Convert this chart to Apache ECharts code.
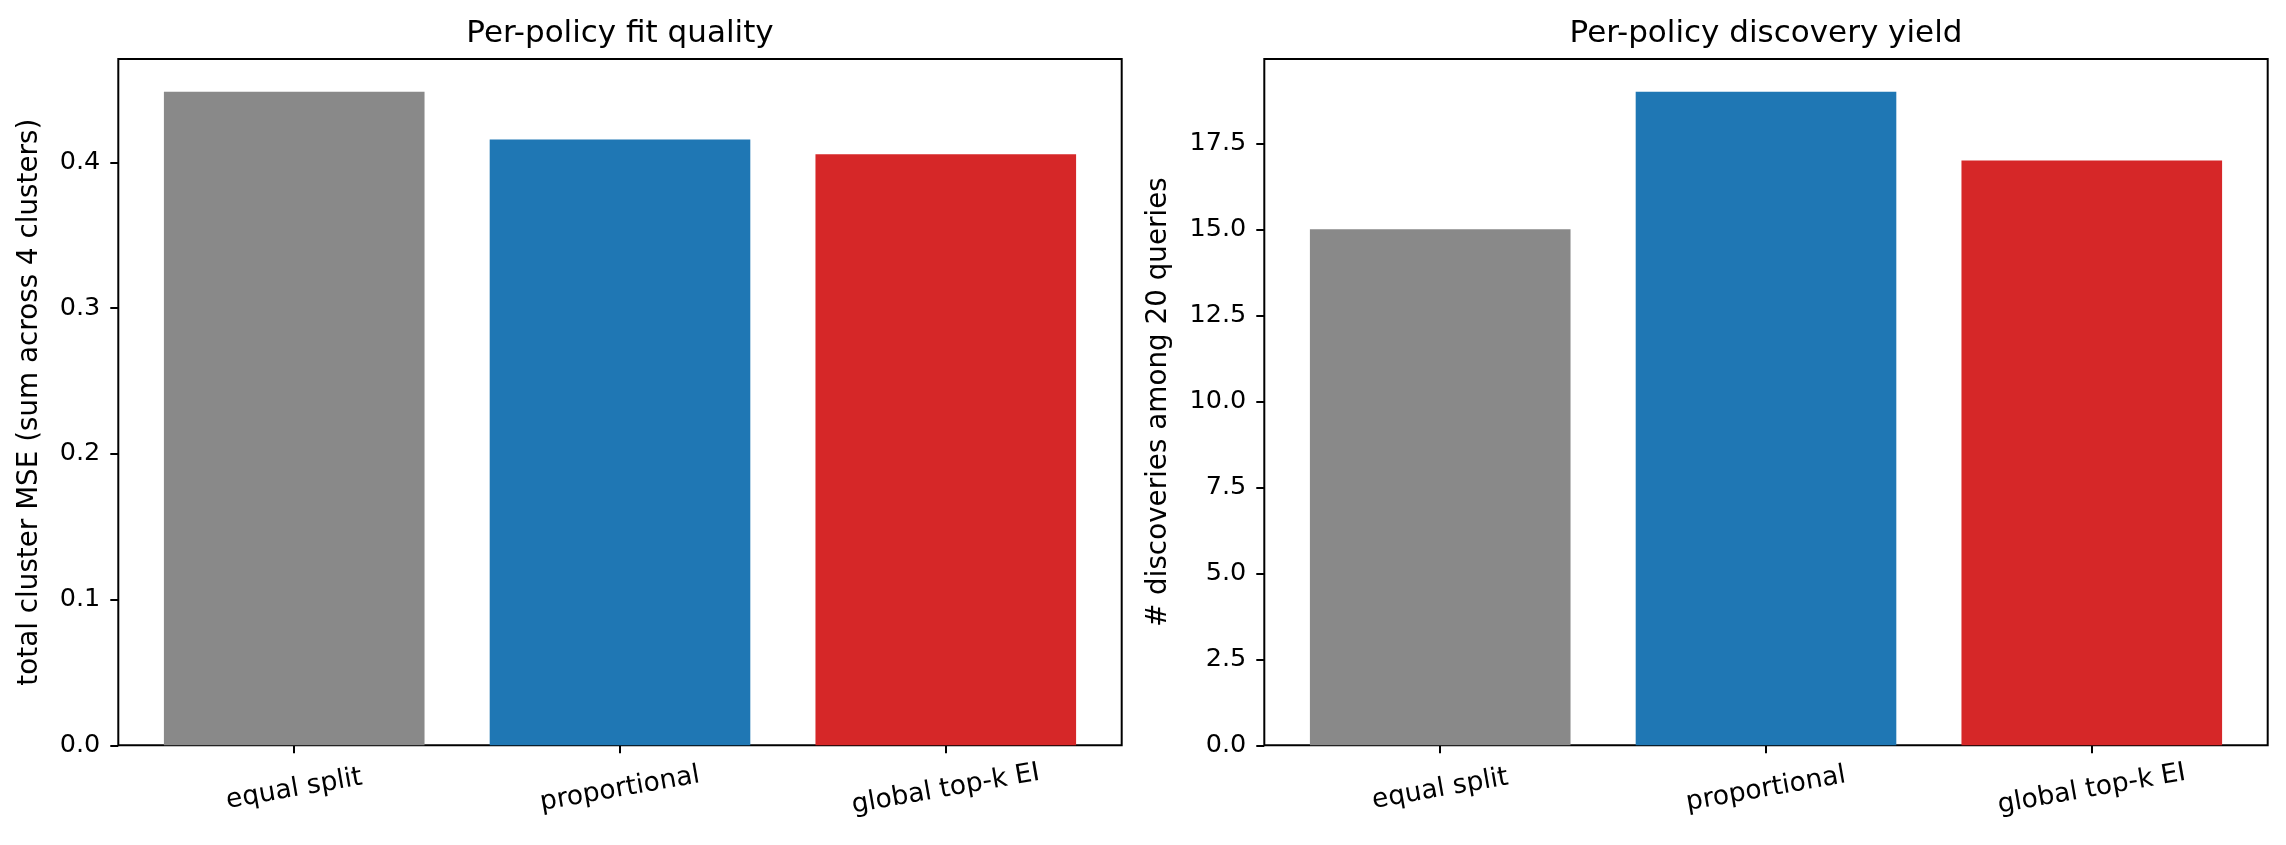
<!DOCTYPE html>
<html>
<head>
<meta charset="utf-8">
<script src="https://cdn.jsdelivr.net/npm/echarts@6/dist/echarts.min.js"></script>
<style>
  html, body { margin: 0; padding: 0; background: #fff; }
  #chart { width: 2286px; height: 845px; }
</style>
</head>
<body>
<div id="chart"></div>
<script>
// data
const categories = ["equal split", "proportional", "global top-k EI"];
const barColors = ["#898989", "#1f77b4", "#d62728"];
const mseValues = [0.4485, 0.4157, 0.4055];
const yieldValues = [15, 19, 17];
const mseTicks = [0, 0.1, 0.2, 0.3, 0.4];
const yieldTicks = [0, 2.5, 5, 7.5, 10, 12.5, 15, 17.5];
const catTicks = [0, 1, 2];

const FONT = "DejaVu Sans";
const gridW = 1003.4;
const xMin = -0.54, xMax = 2.54;
const barW = gridW / (xMax - xMin) * 0.8;

const chart = echarts.init(document.getElementById("chart"), null, { renderer: "canvas" });

const toPoints = (vals) => vals.map((v, i) => ({
  value: [i, v],
  itemStyle: { color: barColors[i] }
}));

const xAxisFor = (gridIndex) => ({
  type: "value",
  gridIndex,
  min: xMin,
  max: xMax,
  axisLine: { show: false, onZero: false },
  splitLine: { show: false },
  axisTick: {
    show: true, customValues: catTicks, length: 8,
    lineStyle: { color: "#000", width: 2 }
  },
  axisLabel: {
    show: true, customValues: catTicks,
    formatter: (v) => categories[Math.round(v)],
    rotate: 10, align: "center", verticalAlign: "middle",
    margin: 44, fontSize: 26.5, fontFamily: FONT, color: "#000"
  }
});

const yAxisFor = (gridIndex, ticks, name, nameGap) => ({
  type: "value",
  gridIndex,
  min: 0,
  max: (e) => e.max * 1.05,
  name,
  nameLocation: "middle",
  nameGap,
  nameTextStyle: { fontSize: 27.8, fontFamily: FONT, color: "#000" },
  axisLine: { show: false, onZero: false },
  splitLine: { show: false },
  axisTick: {
    show: true, customValues: ticks, length: 8,
    lineStyle: { color: "#000", width: 2 }
  },
  axisLabel: {
    show: true, customValues: ticks,
    formatter: (v) => v.toFixed(1),
    margin: 18, fontSize: 25.5, fontFamily: FONT, color: "#000"
  }
});

const titleStyle = { fontSize: 31, fontWeight: "normal", fontFamily: FONT, color: "#000" };

chart.setOption({
  backgroundColor: "#fff",
  animation: false,
  title: [
    { text: "Per-policy fit quality", left: 620, top: 18, textAlign: "center", padding: 0, textStyle: titleStyle },
    { text: "Per-policy discovery yield", left: 1766, top: 18, textAlign: "center", padding: 0, textStyle: titleStyle }
  ],
  grid: [
    { left: 118.3, top: 59, width: gridW, height: 686.3, show: true,
      borderColor: "#000", borderWidth: 2, backgroundColor: "transparent" },
    { left: 1264.3, top: 59, width: gridW, height: 686.3, show: true,
      borderColor: "#000", borderWidth: 2, backgroundColor: "transparent" }
  ],
  xAxis: [xAxisFor(0), xAxisFor(1)],
  yAxis: [
    yAxisFor(0, mseTicks, "total cluster MSE (sum across 4 clusters)", 75),
    yAxisFor(1, yieldTicks, "# discoveries among 20 queries", 92)
  ],
  series: [
    { type: "bar", xAxisIndex: 0, yAxisIndex: 0, barWidth: barW, data: toPoints(mseValues) },
    { type: "bar", xAxisIndex: 1, yAxisIndex: 1, barWidth: barW, data: toPoints(yieldValues) }
  ]
});
</script>
</body>
</html>
